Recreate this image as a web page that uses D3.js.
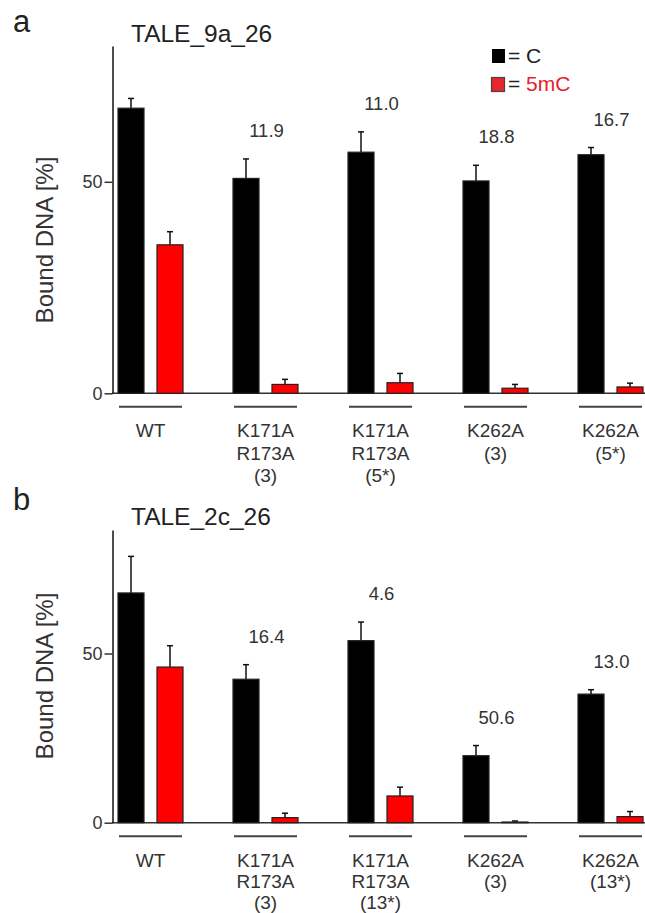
<!DOCTYPE html>
<html>
<head>
<meta charset="utf-8">
<script src="https://cdn.jsdelivr.net/npm/d3@7"></script>
<style>
  body { margin: 0; background: #fff; }
  svg { font-family: 'Liberation Sans', Arial, sans-serif; }
</style>
</head>
<body>
<div id="chart"></div>
<script>
// groups along the x axis (one line per tspan)
const groups = ['WT', 'K171A_3', 'K171A_5', 'K262A_3', 'K262A_5'];
const labelsA = [['WT'], ['K171A', 'R173A', '(3)'], ['K171A', 'R173A', '(5*)'], ['K262A', '(3)'], ['K262A', '(5*)']];
const labelsB = [['WT'], ['K171A', 'R173A', '(3)'], ['K171A', 'R173A', '(13*)'], ['K262A', '(3)'], ['K262A', '(13*)']];
const series = ['C', '5mC'];

// TALE_9a_26
const cA = [67.4, 50.8, 57.0, 50.2, 56.4];
const cErrA = [2.3, 4.6, 4.8, 3.7, 1.7];
const mA = [35.1, 2.1, 2.5, 1.2, 1.5];
const mErrA = [3.1, 1.2, 2.2, 0.9, 0.9];
const ratioA = ['', '11.9', '11.0', '18.8', '16.7'];

// TALE_2c_26
const cB = [67.9, 42.4, 53.8, 19.8, 38.0];
const cErrB = [10.8, 4.3, 5.5, 3.0, 1.3];
const mB = [46.0, 1.5, 7.9, 0.2, 1.8];
const mErrB = [6.3, 1.3, 2.6, 0.3, 1.5];
const ratioB = ['', '16.4', '4.6', '50.6', '13.0'];

const yTicks = [0, 50];

const width = 645, height = 913;
const svg = d3.select('#chart').append('svg')
    .attr('width', width)
    .attr('height', height);

const x = d3.scaleBand().domain(groups).range([118, 643]).paddingInner(50 / 115);
const xs = d3.scaleBand().domain(series).range([0, x.bandwidth()]).paddingInner(1 / 3);
const colour = {C: '#000', '5mC': '#ff0000'};

function drawPanel(p) {
    const g = svg.append('g');
    const y = d3.scaleLinear().domain([0, p.yMax]).range([p.zero, p.top]);

    g.append('text').attr('x', 13).attr('y', p.letterY)
        .style('font-size', '31px').attr('fill', '#222').text(p.letter);
    g.append('text').attr('x', 131).attr('y', p.titleY)
        .style('font-size', '24.5px').attr('fill', '#222').text(p.title);

    // y label
    g.append('text')
        .attr('transform', `translate(53,${p.labelY}) rotate(-90)`)
        .attr('text-anchor', 'middle')
        .style('font-size', '24px').attr('fill', '#333')
        .text('Bound DNA [%]');

    // baseline
    g.append('line')
        .attr('x1', 112).attr('x2', 645)
        .attr('y1', y(0)).attr('y2', y(0))
        .attr('stroke', '#333').attr('stroke-width', 1.5);

    const yAxis = g.append('g')
        .attr('transform', 'translate(112.5,0)')
        .call(d3.axisLeft(y).tickValues(yTicks).tickSize(8).tickSizeOuter(0).tickPadding(2));
    yAxis.select('.domain').attr('stroke', '#111').attr('stroke-width', 1.5);
    yAxis.selectAll('.tick line').attr('stroke', '#333').attr('stroke-width', 1.5);
    yAxis.selectAll('.tick text').style('font-size', '18px').attr('fill', '#333')
        .attr('font-family', null);

    const rows = groups.map((k, i) => ({
        key: k, i,
        bars: [
            {s: 'C', v: p.c[i], e: p.cErr[i]},
            {s: '5mC', v: p.m[i], e: p.mErr[i]}
        ]
    }));

    const grp = g.selectAll('.grp').data(rows).enter().append('g')
        .attr('class', 'grp')
        .attr('transform', (d) => `translate(${x(d.key)},0)`);

    // error bars
    const err = grp.selectAll('.err').data((d) => d.bars).enter().append('g').attr('class', 'err');
    err.append('line')
        .attr('x1', (d) => xs(d.s) + xs.bandwidth() / 2)
        .attr('x2', (d) => xs(d.s) + xs.bandwidth() / 2)
        .attr('y1', (d) => y(d.v)).attr('y2', (d) => y(d.v + d.e))
        .attr('stroke', '#111').attr('stroke-width', 1.5);
    err.append('line')
        .attr('x1', (d) => xs(d.s) + xs.bandwidth() / 2 - 3)
        .attr('x2', (d) => xs(d.s) + xs.bandwidth() / 2 + 3)
        .attr('y1', (d) => y(d.v + d.e)).attr('y2', (d) => y(d.v + d.e))
        .attr('stroke', '#111').attr('stroke-width', 1.5);

    grp.selectAll('rect').data((d) => d.bars).enter().append('rect')
        .attr('x', (d) => xs(d.s))
        .attr('y', (d) => y(d.v))
        .attr('width', xs.bandwidth())
        .attr('height', (d) => y(0) - y(d.v))
        .attr('fill', (d) => colour[d.s])
        .attr('stroke', '#222').attr('stroke-width', 1.2);

    // ratio numbers
    grp.append('text')
        .attr('x', x.bandwidth() / 2 + 1)
        .attr('y', (d) => y(d.bars[0].v + d.bars[0].e) - 22)
        .attr('text-anchor', 'middle')
        .style('font-size', '18.5px').attr('fill', '#333')
        .text((d) => p.ratio[d.i]);

    // group underline
    grp.append('line')
        .attr('x1', 1).attr('x2', x.bandwidth() - 1)
        .attr('y1', y(0) + 13.5).attr('y2', y(0) + 13.5)
        .attr('stroke', '#444').attr('stroke-width', 2);

    const lab = grp.append('text')
        .attr('text-anchor', 'middle')
        .style('font-size', '19px').attr('fill', '#333');
    lab.selectAll('tspan').data((d) => p.labels[d.i]).enter().append('tspan')
        .attr('x', x.bandwidth() / 2)
        .attr('y', (d, j) => y(0) + 44 + j * p.lineStep)
        .text((d) => d);
}

drawPanel({letter: 'a', letterY: 32, title: 'TALE_9a_26', titleY: 42, labelY: 240,
    top: 46, zero: 393.3, yMax: 82.1, lineStep: 22.5,
    c: cA, cErr: cErrA, m: mA, mErr: mErrA, ratio: ratioA, labels: labelsA});
drawPanel({letter: 'b', letterY: 510, title: 'TALE_2c_26', titleY: 525, labelY: 676,
    top: 530, zero: 822.7, yMax: 86.5, lineStep: 21,
    c: cB, cErr: cErrB, m: mB, mErr: mErrB, ratio: ratioB, labels: labelsB});

// legend
const legend = svg.append('g').style('font-size', '21px');
legend.append('rect').attr('x', 492).attr('y', 49).attr('width', 13).attr('height', 14).attr('fill', '#000');
legend.append('text').attr('x', 508).attr('y', 63).attr('fill', '#222').text('= C');
legend.append('rect').attr('x', 491.5).attr('y', 77.5).attr('width', 13).attr('height', 14)
    .attr('fill', '#e8262e').attr('stroke', '#444').attr('stroke-width', 1.2);
const lt = legend.append('text').attr('x', 508).attr('y', 91).attr('fill', '#222');
lt.append('tspan').text('= ');
lt.append('tspan').attr('fill', '#e8202a').text('5mC');
</script>
</body>
</html>
